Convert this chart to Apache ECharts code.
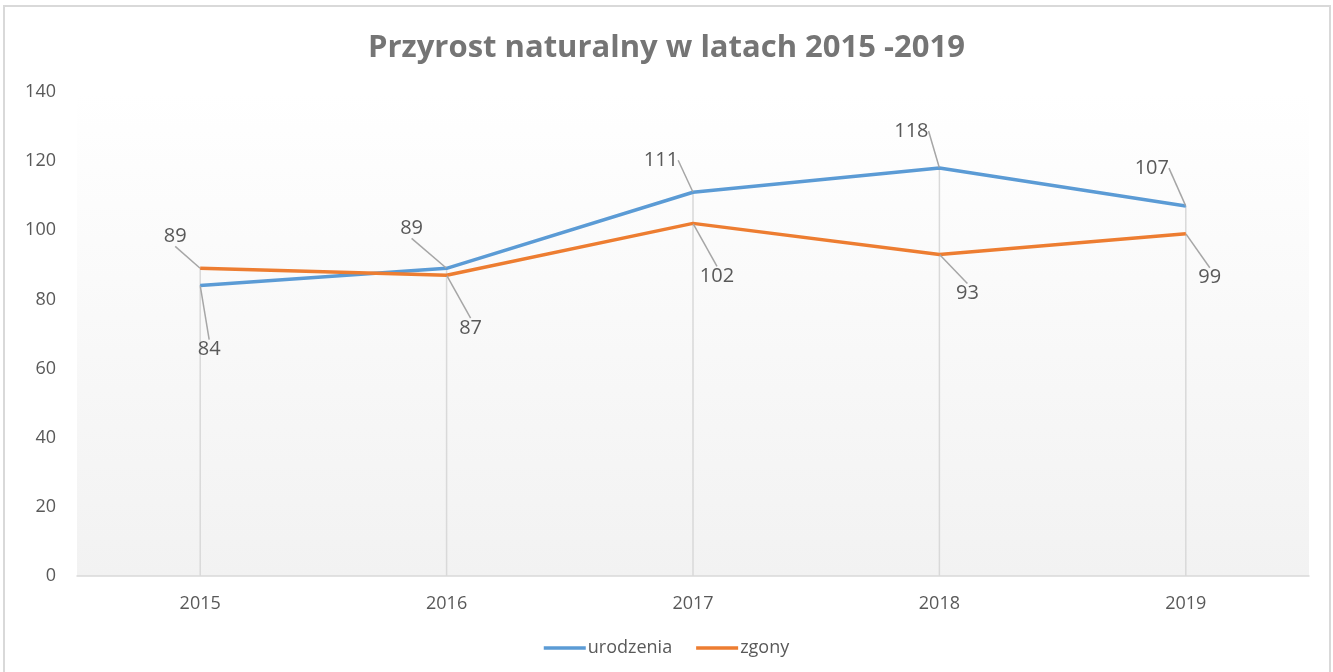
<!DOCTYPE html>
<html>
<head>
<meta charset="utf-8">
<script src="https://cdn.jsdelivr.net/npm/echarts@6/dist/echarts.min.js"></script>
<style>
  html, body { margin: 0; padding: 0; background: #fff; }
  #chart { width: 1333px; height: 672px; }
</style>
</head>
<body>
<div id="chart"></div>
<script>
const years = ['2015', '2016', '2017', '2018', '2019'];
const urodzenia = [84, 89, 111, 118, 107];
const zgony = [89, 87, 102, 93, 99];
const yTicks = { min: 0, max: 140, interval: 20 };

// wysokość linii pionowych = większa z dwóch wartości
const dropHeights = years.map((_, i) => Math.max(urodzenia[i], zgony[i]));

// przesunięcia etykiet (środek etykiety względem punktu)
const labelOffsets = [
  [[9, 64], [-35, -40], [-32, -32], [-28, -37], [-34, -38]],
  [[-25, -32], [24, 53], [24, 53], [28, 39], [24, 44]]
];

const font = '"Open Sans", "Noto Sans", sans-serif';

const chart = echarts.init(document.getElementById('chart'));

const lineSeries = (name, data, color, idx) => ({
  name: name,
  type: 'line',
  data: data,
  symbol: 'circle',
  symbolSize: 1,
  z: 3,
  itemStyle: { color: color },
  lineStyle: { color: color, width: 3.5 },
  label: {
    show: true,
    position: 'inside',
    color: '#595959',
    fontFamily: font,
    fontSize: 20
  },
  labelLine: {
    show: true,
    lineStyle: { color: '#a6a6a6', width: 1.5 }
  },
  labelLayout: function (p) {
    const o = labelOffsets[idx][p.dataIndex];
    return { dx: o[0], dy: o[1] };
  },
  emphasis: { disabled: true }
});

chart.setOption({
  animation: false,
  title: {
    text: 'Przyrost naturalny w latach 2015 -2019',
    left: 'center',
    top: 28,
    textStyle: { fontFamily: font, fontSize: 31, fontWeight: 'bold', color: '#757575' }
  },
  legend: {
    data: ['urodzenia', 'zgony'],
    top: 634,
    left: 'center',
    icon: 'rect',
    itemWidth: 42,
    itemHeight: 3.5,
    itemGap: 24,
    textStyle: { fontFamily: font, fontSize: 18, color: '#595959', padding: [0, 0, 0, -3] }
  },
  graphic: [{
    type: 'rect',
    shape: { x: 4, y: 6, width: 1326, height: 680 },
    style: { fill: 'none', stroke: '#d9d9d9', lineWidth: 2 },
    silent: true
  }],
  grid: {
    left: 77, right: 24, top: 92, bottom: 96,
    show: true,
    borderWidth: 0,
    backgroundColor: new echarts.graphic.LinearGradient(0, 0, 0, 1, [
      { offset: 0, color: '#ffffff' },
      { offset: 1, color: '#f2f2f2' }
    ])
  },
  xAxis: {
    type: 'category',
    data: years,
    boundaryGap: true,
    axisLine: { lineStyle: { color: '#d9d9d9', width: 1.5 } },
    axisTick: { show: false },
    axisLabel: { color: '#595959', fontFamily: font, fontSize: 18, margin: 19 },
    splitLine: { show: false }
  },
  yAxis: {
    type: 'value',
    min: yTicks.min,
    max: yTicks.max,
    interval: yTicks.interval,
    axisLine: { show: false },
    axisTick: { show: false },
    axisLabel: { color: '#595959', fontFamily: font, fontSize: 18, margin: 21 },
    splitLine: { show: false }
  },
  series: [
    {
      name: 'drop',
      type: 'bar',
      data: dropHeights,
      barWidth: 1.5,
      itemStyle: { color: '#d9d9d9' },
      silent: true,
      z: 1
    },
    lineSeries('urodzenia', urodzenia, '#5b9bd5', 0),
    lineSeries('zgony', zgony, '#ed7d31', 1)
  ]
});
</script>
</body>
</html>
